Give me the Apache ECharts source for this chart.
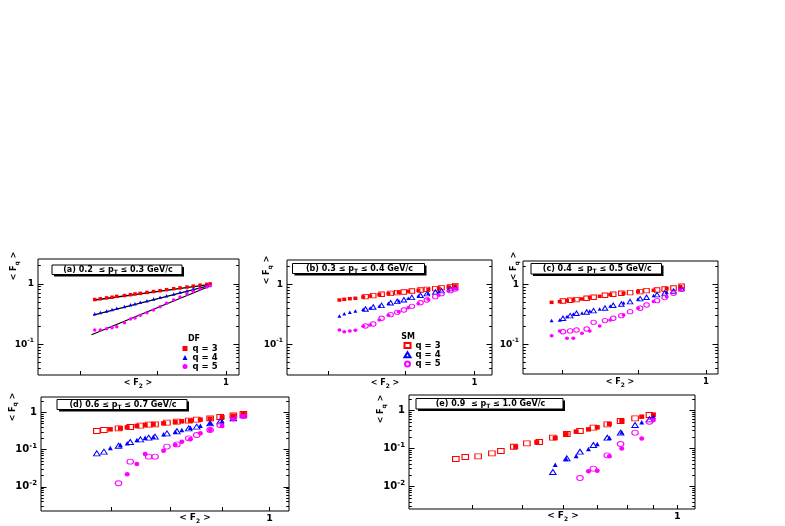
<!DOCTYPE html>
<html><head><meta charset="utf-8">
<script src="https://cdn.jsdelivr.net/npm/echarts@6/dist/echarts.min.js"></script>
<style>html,body{margin:0;padding:0;background:#fff}#c{width:785px;height:526px}</style>
</head><body><div id="c"></div>
<script>
// ---------- data: <F2> (x) and <Fq> (y) per pT bin ----------
// (a) 0.2-0.3 GeV/c : DF with power-law fits
const aDfF2 = [0.818,0.825,0.833,0.840,0.846,0.856,0.864,0.870,0.877,0.886,0.895,0.904,0.913,0.923,0.932,0.942,0.951,0.961,0.971,0.976];
const aDfF3 = [0.55,0.565,0.585,0.60,0.62,0.64,0.66,0.68,0.695,0.72,0.745,0.77,0.80,0.83,0.855,0.885,0.915,0.95,0.98,0.995];
const aDfF4 = [0.32,0.335,0.355,0.375,0.395,0.42,0.45,0.47,0.495,0.525,0.56,0.60,0.635,0.68,0.725,0.77,0.825,0.875,0.935,0.965];
const aDfF5 = [0.172,0.172,0.181,0.188,0.196,0.228,0.262,0.272,0.301,0.333,0.369,0.419,0.475,0.540,0.605,0.678,0.751,0.820,0.885,0.932];
const aFit3F2 = [0.818,0.976], aFit3 = [0.540,0.980];
const aFit4F2 = [0.816,0.976], aFit4 = [0.305,0.943];
const aFit5F2 = [0.814,0.976], aFit5 = [0.144,0.920];
// (b) 0.3-0.4 GeV/c
const bDfF2 = [0.814,0.820,0.827,0.834,0.844,0.853,0.865,0.877,0.891,0.904,0.918,0.932,0.947,0.961,0.971];
const bDfF3 = [0.547,0.562,0.576,0.584,0.614,0.638,0.672,0.698,0.735,0.763,0.793,0.824,0.857,0.902,0.937];
const bDfF4 = [0.296,0.324,0.341,0.359,0.383,0.403,0.435,0.482,0.533,0.584,0.647,0.707,0.763,0.835,0.890];
const bDfF5 = [0.173,0.162,0.167,0.171,0.199,0.210,0.254,0.304,0.350,0.408,0.476,0.562,0.655,0.773,0.846];
const bSmF2 = [0.847,0.857,0.868,0.880,0.889,0.898,0.909,0.921,0.930,0.942,0.951,0.964,0.971];
const bSmF3 = [0.622,0.647,0.681,0.707,0.726,0.744,0.773,0.804,0.824,0.846,0.879,0.913,0.949];
const bSmF4 = [0.388,0.418,0.446,0.494,0.520,0.554,0.606,0.655,0.698,0.744,0.783,0.846,0.890];
const bSmF5 = [0.202,0.218,0.271,0.312,0.341,0.373,0.429,0.494,0.547,0.622,0.698,0.783,0.835];
// (c) 0.4-0.5 GeV/c
const cDfF2 = [0.787,0.797,0.806,0.814,0.825,0.835,0.848,0.862,0.880,0.900,0.922,0.941,0.961];
const cDfF3 = [0.500,0.514,0.533,0.547,0.569,0.599,0.630,0.672,0.707,0.754,0.793,0.846,0.913];
const cDfF4 = [0.248,0.254,0.289,0.320,0.332,0.359,0.388,0.435,0.494,0.569,0.647,0.735,0.857];
const cDfF5 = [0.139,0.167,0.126,0.126,0.152,0.167,0.202,0.254,0.308,0.398,0.514,0.622,0.804];
const cSmF2 = [0.801,0.810,0.818,0.831,0.840,0.855,0.866,0.877,0.889,0.903,0.912,0.927,0.938,0.951,0.963];
const cSmF3 = [0.527,0.540,0.554,0.584,0.606,0.655,0.681,0.707,0.726,0.754,0.783,0.804,0.835,0.868,0.925];
const cSmF4 = [0.271,0.300,0.328,0.345,0.364,0.403,0.446,0.469,0.514,0.576,0.606,0.672,0.716,0.773,0.846];
const cSmF5 = [0.162,0.167,0.173,0.180,0.232,0.248,0.271,0.300,0.350,0.398,0.452,0.533,0.599,0.707,0.824];
// (d) 0.6-0.7 GeV/c
const dDfF2 = [0.699,0.715,0.726,0.742,0.756,0.770,0.788,0.809,0.821,0.837,0.856,0.875,0.899,0.922,0.943];
const dDfF3 = [0.353,0.375,0.399,0.434,0.461,0.481,0.511,0.555,0.579,0.603,0.642,0.683,0.742,0.822,0.911];
const dDfF4 = [0.111,0.134,0.148,0.182,0.211,0.224,0.259,0.305,0.338,0.391,0.443,0.511,0.591,0.697,0.857];
const dDfF5 = [null,null,0.0218,0.0413,0.0766,null,0.0942,0.134,0.164,0.190,0.275,0.338,0.434,0.655,0.805];
const dSmF2 = [0.678,0.689,0.712,0.731,0.748,0.762,0.773,0.794,0.812,0.834,0.849,0.875,0.895,0.922,0.943];
const dSmF3 = [0.318,0.338,0.375,0.408,0.443,0.471,0.481,0.533,0.567,0.603,0.642,0.697,0.757,0.839,0.911];
const dSmF4 = [0.0798,0.0886,0.128,0.161,0.190,0.211,0.224,0.275,0.312,0.375,0.416,0.511,0.579,0.697,0.839];
const dSmF5 = [null,null,0.0125,0.0477,null,0.065,0.065,0.121,0.139,0.202,0.248,0.338,0.461,0.742,0.805];
// (e) 0.9-1.0 GeV/c
const eDfF2 = [0.485,0.533,0.579,0.608,0.636,0.672,0.699,0.738,0.780,0.853,0.899];
const eDfF3 = [0.113,0.147,0.191,0.239,0.281,0.323,0.365,0.447,0.536,0.696,0.786];
const eDfF4 = [null,null,0.0380,0.0536,0.0643,0.0983,0.133,0.195,0.270,0.494,0.696];
const eDfF5 = [null,null,null,null,null,0.0254,0.0264,0.0630,0.102,0.187,0.569];
const eSmF2 = [0.371,0.387,0.410,0.436,0.454,0.481,0.510,0.539,0.573,0.610,0.647,0.687,0.731,0.776,0.828,0.883];
const eSmF3 = [0.0536,0.0605,0.0630,0.0755,0.0870,0.113,0.138,0.150,0.195,0.244,0.292,0.358,0.438,0.536,0.630,0.771];
const eSmF4 = [null,null,null,null,null,null,null,null,0.0244,0.0558,0.0835,0.125,0.195,0.264,0.420,0.593];
const eSmF5 = [null,null,null,null,null,null,null,null,null,null,0.0169,0.0298,0.0669,0.133,0.264,0.514];

// ---------- tick values / labels ----------
const xLabelValues = [1];
const topXTicks = [0.8,0.9,1];
const dXTicks = [0.7,0.8,0.9,1];
const eXTicks = [0.4,0.5,0.6,0.7,0.8,0.9,1];
const topYLabels = [0.1,1];
const botYLabels = [0.01,0.1,1];
const topYMinor = [0.04,0.05,0.06,0.07,0.08,0.09,0.2,0.3,0.4,0.5,0.6,0.7,0.8,0.9,2];
const botYMinor = [0.003,0.004,0.005,0.006,0.007,0.008,0.009,0.02,0.03,0.04,0.05,0.06,0.07,0.08,0.09,0.2,0.3,0.4,0.5,0.6,0.7,0.8,0.9,2];
const panelTitles = ['(a) 0.2  \u2264 p{s|T} \u2264 0.3 GeV/c','(b) 0.3 \u2264 p{s|T} \u2264 0.4 GeV/c','(c) 0.4  \u2264 p{s|T} \u2264 0.5 GeV/c','(d) 0.6 \u2264 p{s|T} \u2264 0.7 GeV/c','(e) 0.9  \u2264 p{s|T} \u2264 1.0 GeV/c'];
const qNames = ['q = 3','q = 4','q = 5'];

// ---------- layout ----------
const FONT = 'DejaVu Sans';
const COLORS = ['#ff0000','#0000ff','#ff00ff'];
const SYMBOLS = ['rect','triangle','circle'];
const L = [
  {g:[38,259,201,116], x:[0.750,1.020], y:[0.0311,2.57], xt:topXTicks, yl:topYLabels, ym:topYMinor,
   box:[52,265,130,9.5], yt:[14,266], xtl:[138,383], fs:8.5, dfS:[3.5,3.5], smS:[5,4.5]},
  {g:[287,260,205,115], x:[0.7515,1.027], y:[0.0308,2.54], xt:topXTicks, yl:topYLabels, ym:topYMinor,
   box:[292.5,263.5,132,10], yt:[267,270], xtl:[385,383], fs:8.5, dfS:[4,3.5], smS:[5.5,4.5]},
  {g:[523,261,195,113], x:[0.7528,1.019], y:[0.032,2.44], xt:topXTicks, yl:topYLabels, ym:topYMinor,
   box:[531,263.5,130.5,10.5], yt:[514,266], xtl:[620,382], fs:8.5, dfS:[4,3.5], smS:[5.5,4.5]},
  {g:[41,397,248,114], x:[0.598,1.045], y:[0.00225,2.61], xt:dXTicks, yl:botYLabels, ym:botYMinor,
   box:[57,399.5,130,10], yt:[12.5,407], xtl:[195,518], fs:9.5, dfS:[5,4.5], smS:[6.5,5]},
  {g:[409,395,286,114], x:[0.3008,1.083], y:[0.00259,2.59], xt:eXTicks, yl:botYLabels, ym:botYMinor,
   box:[416,398.5,147,10.5], yt:[381,409], xtl:[563,516], fs:9.5, dfS:[5,4.5], smS:[6.5,5]}
];
const P = [
  {df:[aDfF2,[aDfF3,aDfF4,aDfF5]], sm:null, fits:[[aFit3F2,aFit3],[aFit4F2,aFit4],[aFit5F2,aFit5]]},
  {df:[bDfF2,[bDfF3,bDfF4,bDfF5]], sm:[bSmF2,[bSmF3,bSmF4,bSmF5]]},
  {df:[cDfF2,[cDfF3,cDfF4,cDfF5]], sm:[cSmF2,[cSmF3,cSmF4,cSmF5]]},
  {df:[dDfF2,[dDfF3,dDfF4,dDfF5]], sm:[dSmF2,[dSmF3,dSmF4,dSmF5]]},
  {df:[eDfF2,[eDfF3,eDfF4,eDfF5]], sm:[eSmF2,[eSmF3,eSmF4,eSmF5]]}
];

function pts(xs, ys){ const o=[]; xs.forEach((x,i)=>{ if(ys[i]!=null) o.push([x,ys[i]]); }); return o; }
function richSet(fs){
  return {
    m:{fontSize:fs,fontWeight:'bold',fontFamily:FONT,color:'#000',lineHeight:fs+4,verticalAlign:'middle'},
    s:{fontSize:Math.round(fs*0.7),fontWeight:'bold',fontFamily:FONT,color:'#000',lineHeight:Math.round(fs*0.7)+1,verticalAlign:'bottom'},
    u:{fontSize:Math.round(fs*0.7),fontWeight:'bold',fontFamily:FONT,color:'#000',lineHeight:Math.round(fs*0.7)+1,verticalAlign:'top'}
  };
}
function wrapM(t){ return t.split(/(\{s\|[^}]*\})/).map(p=>p.startsWith('{s|')?p:(p?'{m|'+p+'}':'')).join(''); }
function gtext(x,y,t,fs,extra){
  return Object.assign({type:'text', x:x, y:y, silent:true, z:100,
    style:{text:wrapM(t), rich:richSet(fs), fill:'#000', fontSize:fs, fontWeight:'bold', fontFamily:FONT,
      align:'center', verticalAlign:'middle', textAlign:'center', textVerticalAlign:'middle'}}, extra||{});
}

const grids=[], xAxes=[], yAxes=[], series=[], graphics=[];
L.forEach((l,i)=>{
  grids.push({left:l.g[0], top:l.g[1], width:l.g[2], height:l.g[3], show:true, borderColor:'#000', borderWidth:1,
    backgroundColor:'rgba(0,0,0,0)', containLabel:false, outerBoundsMode:'none'});
  xAxes.push({type:'log', logBase:10, gridIndex:i, min:l.x[0], max:l.x[1], position:'bottom',
    axisLine:{show:false}, splitLine:{show:false}, minorTick:{show:false},
    axisTick:{show:true, inside:true, length:4, customValues:l.xt, lineStyle:{color:'#000',width:1}},
    axisLabel:{show:true, customValues:xLabelValues, formatter:v=>String(Math.round(v)), margin:3, color:'#000',
      fontFamily:FONT, fontWeight:'bold', fontSize:l.fs}});
  const yb = {type:'log', logBase:10, gridIndex:i, min:l.y[0], max:l.y[1], axisLine:{show:false}, splitLine:{show:false}, minorTick:{show:false}};
  const lab = {show:true, customValues:l.yl, margin:4, color:'#000',
    formatter:v=>{ const e=Math.round(Math.log10(v)); return e===0?'{m|1}':'{m|10}{u|'+e+'}'; },
    rich:richSet(l.fs+0.5)};
  yAxes.push(Object.assign({}, yb, {position:'left', axisTick:{show:true,inside:true,length:5.5,customValues:l.yl,lineStyle:{color:'#000'}}, axisLabel:lab}));
  yAxes.push(Object.assign({}, yb, {position:'left', axisTick:{show:true,inside:true,length:2.8,customValues:l.ym,lineStyle:{color:'#000'}}, axisLabel:{show:false}}));
  yAxes.push(Object.assign({}, yb, {position:'right', axisTick:{show:true,inside:true,length:5.5,customValues:l.yl,lineStyle:{color:'#000'}}, axisLabel:{show:false}}));
  yAxes.push(Object.assign({}, yb, {position:'right', axisTick:{show:true,inside:true,length:2.8,customValues:l.ym,lineStyle:{color:'#000'}}, axisLabel:{show:false}}));

  const p = P[i];
  if (p.fits) p.fits.forEach(f=>{
    series.push({type:'line', xAxisIndex:i, yAxisIndex:i*4, data:pts(f[0],f[1]), showSymbol:false, symbol:'none',
      lineStyle:{color:'#000', width:1.3}, z:1, silent:true});
  });
  if (p.sm) [0,1,2].forEach(k=>{
    series.push({type:'scatter', name:'SM '+qNames[k], xAxisIndex:i, yAxisIndex:i*4, data:pts(p.sm[0],p.sm[1][k]),
      symbol:SYMBOLS[k], symbolSize:l.smS, z:2, silent:true,
      itemStyle:{color:'rgba(255,255,255,0)', borderColor:COLORS[k], borderWidth:1, opacity:1}});
  });
  [0,1,2].forEach(k=>{
    series.push({type:'scatter', name:'DF '+qNames[k], xAxisIndex:i, yAxisIndex:i*4, data:pts(p.df[0],p.df[1][k]),
      symbol:SYMBOLS[k], symbolSize:l.dfS, z:3, silent:true, itemStyle:{color:COLORS[k], opacity:1}});
  });

  // title box with shadow
  const b = l.box;
  graphics.push({type:'rect', silent:true, z:90, shape:{x:b[0]+2, y:b[1]+2, width:b[2], height:b[3]}, style:{fill:'#000'}});
  graphics.push({type:'rect', silent:true, z:91, shape:{x:b[0], y:b[1], width:b[2], height:b[3]}, style:{fill:'#fff', stroke:'#000', lineWidth:1}});
  graphics.push(gtext(b[0]+b[2]/2+1, b[1]+b[3]/2, panelTitles[i], 8));
  graphics.push(gtext(l.yt[0], l.yt[1], '< F{s|q} >', 8, {rotation:Math.PI/2}));
  graphics.push(gtext(l.xtl[0], l.xtl[1], '< F{s|2} >', l.fs-0.5));
});
graphics.push(gtext(194,339,'DF',8));
graphics.push(gtext(408,336.5,'SM',8));

const legTxt = {fontFamily:FONT, fontWeight:'bold', fontSize:8.5, color:'#000', lineHeight:9};
const option = {
  animation:false,
  backgroundColor:'#fff',
  grid:grids, xAxis:xAxes, yAxis:yAxes, series:series,
  legend:[
    {data:qNames.map(n=>'DF '+n), left:182.5, top:344, orient:'vertical', itemGap:0, itemWidth:5, itemHeight:5,
     padding:0, selectedMode:false, formatter:n=>n.slice(3), textStyle:legTxt},
    {data:qNames.map(n=>'SM '+n), left:403.5, top:341, orient:'vertical', itemGap:0.3, itemWidth:6, itemHeight:5,
     padding:0, selectedMode:false, formatter:n=>n.slice(3), textStyle:legTxt}
  ],
  graphic:{elements:graphics}
};
const chart = echarts.init(document.getElementById('c'));
chart.setOption(option);
</script></body></html>
